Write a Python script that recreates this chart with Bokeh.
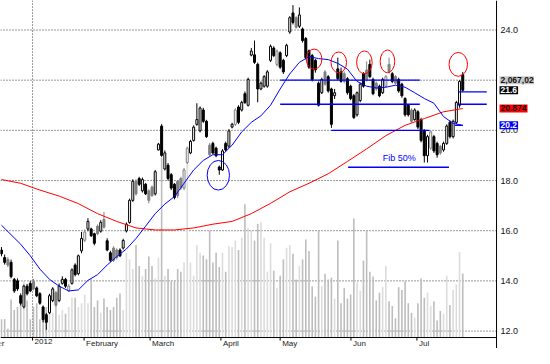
from bokeh.plotting import figure
from bokeh.models import Range1d, Label, Span
from bokeh.core.properties import value
from bokeh.embed import file_html
from bokeh.resources import INLINE

# ---- daily bars (index = trading day) ----
opens = [15.23, 14.93, 14.85, 14.74, 14.06, 14.00, 13.41, 12.96, 13.79, 13.90,
         13.98, 13.72, 13.49, 12.96, 12.65, 12.73, 13.22, 13.53, 13.22, 13.90,
         14.06, 13.60, 13.90, 14.63, 14.29, 15.20, 15.62, 16.07, 16.07, 15.88,
         16.18, 15.98, 16.45, 15.60, 15.12, 15.31, 15.23, 15.23, 15.31, 15.99,
         16.33, 17.21, 17.97, 18.08, 17.59, 17.85, 17.59, 17.74, 17.47, 19.22,
         20.17, 18.46, 18.61, 18.23, 17.85, 17.97, 18.08, 17.70, 18.72, 19.10,
         19.60, 20.24, 19.98, 20.81, 20.36, 19.41, 19.48, 19.29, 18.54, 18.42,
         19.48, 19.37, 20.13, 20.24, 20.93, 20.81, 21.46, 21.00, 23.00, 23.01,
         22.63, 21.65, 21.76, 21.76, 22.79, 23.28, 22.63, 23.09, 22.79, 22.98,
         23.92, 24.68, 24.49, 24.15, 24.04, 23.66, 23.17, 22.98, 22.79, 21.88,
         21.50, 22.33, 22.14, 21.65, 21.38, 22.45, 22.33, 22.26, 22.06, 21.76,
         21.38, 20.62, 21.19, 22.26, 22.41, 22.63, 22.03, 21.88, 21.76, 21.50,
         21.76, 22.63, 22.26, 22.14, 22.03, 21.84, 21.27, 21.00, 20.81, 20.43,
         20.74, 20.43, 19.98, 18.99, 19.29, 19.75, 19.48, 19.37, 19.22, 19.48,
         20.32, 19.75, 20.32, 21.00, 22.22]
highs = [15.35, 15.05, 14.95, 14.85, 14.12, 14.10, 13.50, 13.85, 13.88, 14.00,
         14.08, 13.78, 13.55, 13.02, 12.72, 13.48, 13.75, 13.60, 13.90, 14.18,
         14.12, 13.88, 14.50, 14.70, 15.05, 15.95, 16.05, 16.50, 16.12, 15.92,
         16.25, 16.42, 16.75, 15.70, 15.20, 15.38, 15.30, 15.30, 15.68, 16.33,
         17.28, 18.05, 18.05, 18.15, 18.12, 17.90, 17.65, 17.80, 18.42, 19.50,
         20.25, 19.20, 18.70, 18.30, 17.90, 18.02, 18.15, 18.50, 19.35, 19.62,
         20.20, 21.08, 20.95, 20.90, 20.42, 19.50, 19.55, 19.35, 18.60, 19.25,
         19.55, 20.05, 20.30, 20.88, 21.00, 21.18, 21.55, 22.10, 23.28, 23.58,
         22.70, 21.95, 22.20, 22.40, 23.42, 23.35, 23.22, 23.15, 22.85, 23.45,
         24.55, 24.99, 24.55, 24.90, 24.10, 23.72, 23.22, 23.05, 22.85, 21.95,
         22.10, 22.40, 22.20, 21.70, 21.65, 22.90, 22.50, 22.35, 22.12, 21.82,
         21.45, 21.55, 21.90, 22.32, 22.75, 22.82, 22.10, 21.95, 21.82, 22.10,
         22.20, 22.90, 22.32, 22.20, 22.10, 21.90, 21.32, 21.05, 20.88, 20.88,
         20.80, 20.50, 20.05, 19.82, 20.00, 19.82, 19.55, 19.42, 19.55, 20.24,
         20.40, 20.43, 21.18, 22.00, 22.33]
lows = [14.98, 14.65, 14.55, 14.10, 13.52, 13.60, 13.02, 12.90, 13.42, 13.55,
        13.62, 13.35, 13.05, 12.35, 12.05, 12.68, 13.15, 12.98, 13.15, 13.85,
        13.72, 13.55, 13.85, 14.18, 14.22, 15.10, 15.55, 15.98, 15.75, 15.42,
        15.82, 15.92, 16.08, 15.18, 14.75, 14.75, 14.85, 14.95, 15.25, 15.93,
        16.28, 17.15, 17.40, 17.78, 17.52, 17.42, 17.09, 17.35, 17.40, 19.20,
        18.95, 18.40, 18.00, 17.62, 17.25, 17.30, 17.62, 17.62, 18.65, 19.05,
        19.55, 20.18, 19.92, 20.30, 19.70, 18.97, 19.05, 18.93, 18.23, 18.38,
        19.15, 19.30, 20.08, 20.18, 20.25, 20.75, 21.05, 20.95, 22.95, 22.65,
        21.12, 21.60, 21.70, 21.70, 22.72, 22.92, 22.55, 22.45, 22.25, 22.92,
        23.85, 24.22, 24.05, 24.08, 23.50, 22.82, 22.45, 21.95, 22.30, 20.95,
        21.45, 21.78, 21.50, 20.10, 21.25, 22.00, 21.90, 21.88, 21.42, 21.20,
        20.45, 20.55, 21.12, 21.70, 21.95, 22.08, 21.40, 21.58, 21.32, 21.45,
        21.70, 22.26, 21.88, 21.82, 21.50, 21.30, 20.55, 20.55, 20.30, 20.38,
        20.05, 19.52, 18.72, 18.72, 19.22, 19.10, 18.91, 19.03, 19.15, 19.42,
        19.68, 19.68, 20.25, 20.90, 21.55]
closes = [15.08, 14.74, 14.63, 14.17, 13.60, 13.68, 13.11, 13.79, 13.49, 13.60,
          13.68, 13.41, 13.11, 12.46, 12.35, 13.41, 13.68, 13.03, 13.79, 14.06,
          13.79, 13.79, 14.44, 14.25, 15.00, 15.69, 15.95, 16.37, 15.80, 15.50,
          15.88, 16.33, 16.14, 15.23, 14.82, 14.82, 14.93, 15.00, 15.61, 16.26,
          17.21, 17.97, 17.47, 17.85, 18.04, 17.47, 17.21, 17.40, 18.35, 19.45,
          19.00, 19.10, 18.08, 17.70, 17.32, 17.40, 17.70, 18.42, 19.29, 19.56,
          20.13, 20.43, 20.89, 20.36, 19.75, 19.03, 19.10, 18.99, 18.42, 19.18,
          19.22, 19.98, 20.24, 20.81, 20.32, 21.11, 21.11, 22.03, 23.16, 22.71,
          21.65, 21.88, 22.14, 22.33, 23.35, 22.98, 23.16, 22.52, 22.33, 23.39,
          24.49, 24.30, 24.11, 24.60, 23.58, 22.90, 22.52, 22.03, 22.41, 21.00,
          22.03, 21.84, 21.57, 20.24, 21.50, 22.06, 21.95, 21.95, 21.50, 21.27,
          20.51, 21.50, 21.84, 21.76, 22.03, 22.14, 21.46, 21.65, 21.38, 22.03,
          22.14, 22.33, 21.95, 21.88, 21.57, 21.38, 20.62, 20.62, 20.36, 20.81,
          20.13, 19.60, 18.99, 19.75, 19.94, 19.18, 19.03, 19.10, 19.48, 20.17,
          19.75, 20.36, 21.11, 21.95, 21.60]
# volume, millions of shares
volumes = [0.59, 0.59, 0.28, 1.23, 0.89, 0.99, 1.29, 1.82, 1.20, 0.59,
           0.99, 1.11, 0.59, 0.80, 0.99, 1.45, 0.80, 1.29, 0.74, 0.89,
           0.77, 0.99, 1.29, 1.29, 0.99, 1.11, 1.39, 1.11, 1.91, 0.99,
           1.20, 0.80, 1.26, 0.99, 0.89, 0.99, 1.29, 1.42, 0.89, 2.74,
           2.53, 2.22, 2.99, 2.31, 2.00, 2.22, 2.62, 2.31, 1.91, 2.59,
           5.82, 2.00, 2.22, 1.82, 1.82, 2.22, 2.13, 2.43, 5.67, 2.43,
           2.00, 2.99, 2.74, 2.65, 2.53, 3.45, 2.43, 2.74, 2.28, 2.74,
           2.13, 2.96, 2.93, 3.14, 2.83, 3.23, 4.31, 3.54, 3.45, 3.14,
           3.67, 3.73, 3.23, 2.13, 3.05, 2.16, 1.60, 2.00, 2.53, 2.90,
           2.99, 2.71, 1.88, 2.31, 2.53, 3.17, 2.80, 1.66, 1.32, 3.45,
           1.66, 2.06, 1.88, 1.94, 1.26, 3.14, 1.11, 1.60, 1.26, 1.39,
           3.85, 1.79, 1.51, 2.49, 3.45, 2.13, 1.97, 1.20, 1.45, 1.63,
           2.31, 1.17, 1.02, 0.62, 1.63, 1.54, 1.82, 1.11, 0.80, 0.65,
           1.11, 1.91, 1.29, 1.45, 1.02, 1.17, 0.55, 0.86, 0.77, 2.00,
           1.05, 1.54, 1.72, 2.77, 2.067]
grey_days = [2, 10, 17, 21, 26, 30, 32, 35, 36, 42, 46, 47, 55, 56, 57, 58, 65, 73,
             86, 92, 101, 107, 114, 117, 120, 121, 123, 128, 134, 137]

# moving averages
blue_ma_day = [0, 3, 6, 9, 12, 15, 18, 21, 24, 27, 30, 33, 36, 39, 42, 45, 48, 51, 54,
               57, 60, 63, 66, 69, 72, 75, 78, 81, 84, 87, 90, 93, 96, 99, 102, 105,
               108, 111, 114, 117, 120, 123, 126, 129, 132, 135, 138, 141, 144]
blue_ma = [16.22, 15.84, 15.46, 15.00, 14.47, 14.06, 13.79, 13.60, 13.64, 14.02,
           14.25, 14.63, 14.97, 15.27, 15.69, 16.18, 16.68, 17.06, 17.36, 17.89,
           18.42, 18.80, 19.03, 19.03, 19.41, 19.94, 20.32, 20.58, 21.00, 21.65,
           22.25, 22.71, 22.94, 22.86, 22.82, 22.67, 22.44, 21.95, 21.76, 21.69,
           21.72, 21.80, 21.72, 21.50, 21.27, 21.08, 20.55, 20.28, 20.20]
red_ma_day = [0, 6, 12, 18, 24, 30, 36, 42, 48, 54, 60, 66, 72, 78, 84, 90, 96, 102,
              108, 114, 120, 126, 132, 138, 144]
red_ma = [18.04, 17.89, 17.62, 17.38, 17.08, 16.68, 16.37, 16.11, 16.03, 16.03,
          16.11, 16.26, 16.37, 16.68, 17.09, 17.55, 17.89, 18.27, 18.76, 19.26,
          19.79, 20.20, 20.47, 20.74, 20.87]

# axis content
price_ticks = [12.0, 14.0, 16.0, 18.0, 20.0, 22.0, 24.0]
month_ticks = [-11.2, 9.7, 25.8, 46.4, 68.5, 87.0, 109.1, 129.7]
month_names = ["December", "2012", "February", "March", "April", "May", "Jun", "Jul"]

# drawn annotations
level_price = [22.0, 21.04, 20.0, 18.53, 21.53, 21.04, 20.2]
level_from = [87.0, 87.0, 103.0, 108.2, 142.7, 142.7, 141.5]
level_to = [130.6, 130.6, 133.6, 139.7, 151.5, 151.5, 144.0]
top_day = [97.6, 105.3, 113.3, 120.5, 142.6]
top_price = [22.84, 22.71, 22.71, 22.75, 22.63]
top_w = [4.85, 4.85, 4.85, 4.55, 5.76]
top_h = [0.80, 0.83, 0.91, 0.91, 0.95]
low_day, low_price, low_w, low_h = 67.7, 18.21, 6.97, 1.18
fib_day, fib_price, fib_text = 124.2, 18.88, "Fib 50%"
tag_text = ["2,067,020", "21.6", "20.874", "20.2"]
tag_price = [22.0, 21.6, 20.874, 20.2]
tag_bg = ["#c8c8c8", "#000000", "#ff0000", "#0000ff"]
tag_fg = ["#111111", "#ffffff", "#111111", "#ffffff"]

# chart window (trading-day index / price / volume)
X0, X_AXIS, X1 = -0.3, 154.55, 166.4
Y0, Y_AXIS, Y1 = 11.305, 11.742, 25.176
VOL0, VOL1 = -0.355, 10.90

N = min(len(opens), len(highs), len(lows), len(closes), len(volumes))
days = list(range(N))
tone = ["#808080" if d in grey_days else "#000000" for d in days]
body_fill = ["white" if closes[d] > opens[d] else tone[d] for d in days]
body_top = [max(opens[d], closes[d]) for d in days]
body_bot = [min(opens[d], closes[d]) for d in days]
vol_col = ["#dcdcdc" if closes[d] >= opens[d] else "#bdbdbd" for d in days]

FONT = "Liberation Sans"
p = figure(width=534, height=348, output_backend="svg", toolbar_location=None,
           x_range=Range1d(X0, X1), y_range=Range1d(Y0, Y1),
           min_border=0, min_border_left=0, min_border_right=0,
           min_border_top=0, min_border_bottom=0)
p.outline_line_color = None
p.xaxis.visible = False
p.yaxis.visible = False
p.xgrid.visible = False
p.ygrid.visible = False
p.extra_y_ranges = {"vol": Range1d(VOL0, VOL1)}

# dotted grid
p.segment(x0=[X0] * len(price_ticks), y0=price_ticks,
          x1=[X_AXIS] * len(price_ticks), y1=price_ticks,
          line_color="#333333", line_dash="1 2", line_width=1)
p.segment(x0=[month_ticks[1]], y0=[Y_AXIS], x1=[month_ticks[1]], y1=[Y1],
          line_color="#333333", line_dash="1 2", line_width=1)

# volume
p.vbar(x=days, top=volumes[:N], bottom=0, width=0.5, y_range_name="vol",
       fill_color=vol_col, line_color=None)

# candles
p.segment(x0=days, y0=lows[:N], x1=days, y1=highs[:N], line_color=tone, line_width=1)
p.vbar(x=days, top=body_top, bottom=body_bot, width=0.62,
       fill_color=body_fill, line_color=tone, line_width=1)

# moving averages
p.line(red_ma_day, red_ma, line_color="#ff0000", line_width=1)
p.line(blue_ma_day, blue_ma, line_color="#0000ff", line_width=1)

# drawn levels and marks
p.segment(x0=level_from, y0=level_price, x1=level_to, y1=level_price,
          line_color="#0000ff", line_width=1.3)
p.ellipse(x=top_day, y=top_price, width=top_w, height=top_h,
          fill_color=None, line_color="#ff0000", line_width=1)
p.ellipse(x=[low_day], y=[low_price], width=[low_w], height=[low_h],
          fill_color=None, line_color="#0000ff", line_width=1)
p.text(x=[fib_day], y=[fib_price], text=[fib_text], text_color="#0000ff",
       text_font=value(FONT), text_font_size="9px", text_align="center",
       text_baseline="middle")

# axis lines, ticks and tick labels
p.add_layout(Span(location=X_AXIS, dimension="height", line_color="black", line_width=1))
p.segment(x0=[X0], y0=[Y_AXIS], x1=[X_AXIS], y1=[Y_AXIS], line_color="black", line_width=1)
p.segment(x0=month_ticks, y0=[Y_AXIS] * len(month_ticks), x1=month_ticks,
          y1=[Y_AXIS - 0.12] * len(month_ticks), line_color="black", line_width=1)
p.text(x=month_ticks, y=[Y_AXIS] * len(month_ticks), text=month_names,
       x_offset=2, y_offset=1, text_align="left", text_baseline="top",
       text_font=value(FONT), text_font_size="8px", text_color="#222222")
p.text(x=[X_AXIS] * len(price_ticks), y=price_ticks,
       text=["%.1f" % t for t in price_ticks], x_offset=4,
       text_align="left", text_baseline="middle",
       text_font=value(FONT), text_font_size="9px", text_color="#111111")

# value tags at the right edge
for txt, lvl, bg, fg in zip(tag_text, tag_price, tag_bg, tag_fg):
    p.add_layout(Label(x=X_AXIS, y=lvl, text=txt, x_offset=3,
                       text_baseline="middle", text_align="left",
                       text_font=FONT, text_font_size="8.5px", text_font_style="bold",
                       text_color=fg, background_fill_color=bg, padding=1))

open("out.html", "w").write(file_html(p, INLINE))
